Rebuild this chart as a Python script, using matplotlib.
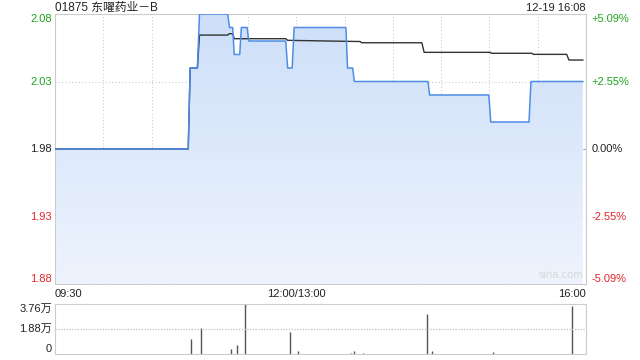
import numpy as np
import matplotlib
matplotlib.use("Agg")
import matplotlib.pyplot as plt
import matplotlib.transforms as mtransforms

plt.rcParams['font.family'] = ['Liberation Sans', 'Noto Sans CJK SC', 'DejaVu Sans']

# trading minutes since 09:30 (12:00/13:00 break folded out), 330 = 16:00
price_t = [0, 82.8, 84.0, 88.5, 89.8, 107.3, 108.5, 110.4, 111.4, 114.8, 115.8,
           116.6, 119.4, 120.4, 143.4, 144.6, 147.4, 148.6, 180.8, 181.8, 185.0,
           186.0, 231.8, 232.8, 269.6, 270.8, 294.6, 295.8, 328.0]
price_v = [1.98, 1.98, 2.04, 2.04, 2.08, 2.08, 2.07, 2.07, 2.05, 2.05, 2.07,
           2.07, 2.07, 2.06, 2.06, 2.04, 2.04, 2.07, 2.07, 2.04, 2.04,
           2.03, 2.03, 2.02, 2.02, 2.00, 2.00, 2.03, 2.03]

avg_t = [0, 82.8, 84.0, 88.5, 89.8, 107.3, 108.2, 110.4, 111.4, 143.4, 144.6, 189.6,
         190.6, 228.0, 229.4, 270.4, 271.4, 296.3, 297.3, 318.0, 319.4, 328.0]
avg_v = [1.98, 1.98, 2.04, 2.04, 2.0644, 2.0644, 2.0654, 2.0654, 2.0617, 2.0617, 2.0605, 2.0596,
         2.0587, 2.0587, 2.0516, 2.0516, 2.0509, 2.0509, 2.0501, 2.0501, 2.0459, 2.0459]

vol_t = [84.6, 90.7, 109.6, 112.9, 118.1, 146.1, 150.9, 184.0, 185.8, 191.7,
         231.0, 234.5, 272.5, 321.0]
vol_v = [1.13, 1.93, 0.38, 0.68, 3.76, 1.68, 0.23, 0.08, 0.2, 0.08,
         3.0, 0.2, 0.15, 3.6]  # 万股

price_ticks = [2.08, 2.03, 1.98, 1.93, 1.88]
price_labels = ['2.08', '2.03', '1.98', '1.93', '1.88']
pct_labels = ['+5.09%', '+2.55%', '0.00%', '-2.55%', '-5.09%']
tick_colors = ['#1da11d', '#1da11d', '#222222', '#e3262b', '#e3262b']
vol_ticks = [3.76, 1.88, 0]
vol_labels = ['3.76万', '1.88万', '0']

grid_c = '#cccccc'
fig = plt.figure(figsize=(6.4, 3.6), dpi=100)
ax = fig.add_axes([55 / 640, 1 - 284 / 360, 531 / 640, 270 / 360])
axv = fig.add_axes([55 / 640, 1 - 354 / 360, 531 / 640, 50 / 360])

ax.set_xlim(0, 330)
ax.set_ylim(1.88, 2.08)

# gradient fill under the price line
poly = ax.fill_between(price_t, price_v, 1.88, color='none', lw=0)
grad = np.linspace(0, 1, 256).reshape(-1, 1)
img = ax.imshow(grad, cmap=matplotlib.colors.LinearSegmentedColormap.from_list(
    'g', ['#cddff9', '#eef4fd']), aspect='auto', extent=[0, 330, 1.88, 2.08],
    origin='upper', zorder=1)
img.set_clip_path(poly.get_paths()[0], transform=ax.transData)
ax.set_ylim(1.88, 2.08)

# grid
for x in range(30, 330, 30):
    ax.axvline(x, color=grid_c, lw=0.8, ls=(0, (1, 2)), zorder=0.5)
for y in [2.03, 1.93]:
    ax.axhline(y, color=grid_c, lw=0.8, ls=(0, (1, 2)), zorder=0.5)
ax.axhline(1.98, color='#aaaaaa', lw=0.8, ls=(0, (3, 2)), zorder=0.5)

ax.plot(avg_t, avg_v, color='#333333', lw=1.0, zorder=3)
ax.plot(price_t, price_v, color='#4d8de6', lw=1.1, zorder=4)

for s in ax.spines.values():
    s.set_color(grid_c)
ax.set_xticks([])
ax.set_yticks([])

tl = mtransforms.blended_transform_factory(ax.transAxes, ax.transData)
for i, (yv, lab, pl, c) in enumerate(zip(price_ticks, price_labels, pct_labels, tick_colors)):
    va = 'top' if i == 0 else ('bottom' if i == len(price_ticks) - 1 else 'center')
    ax.text(-0.006, yv, lab, transform=tl, ha='right', va=va, color=c, fontsize=8)
    ax.text(1.01, yv, pl, transform=tl, ha='left', va=va, color=c, fontsize=8)

ax.text(0, 1.024, '01875 东曜药业－B', transform=ax.transAxes, ha='left',
        va='center', fontsize=8.5, color='#222222')
ax.text(1, 1.024, '12-19 16:08', transform=ax.transAxes, ha='right',
        va='center', fontsize=8, color='#222222')
ax.text(0.995, 0.015, 'sina.com', transform=ax.transAxes, ha='right',
        va='bottom', fontsize=8, color='#d8d8d8')

for xv, lab, ha in [(0, '09:30', 'left'), (150, '12:00/13:00', 'center'), (330, '16:00', 'right')]:
    ax.text(xv, -0.018, lab, transform=mtransforms.blended_transform_factory(ax.transData, ax.transAxes),
            ha=ha, va='top', fontsize=8, color='#222222')

# volume panel
axv.set_xlim(0, 330)
axv.set_ylim(0, 3.76)
axv.vlines(vol_t, 0, vol_v, color='#555555', lw=1.0)
axv.axhline(1.88, color=grid_c, lw=1.0, ls=(0, (1, 1)))
axv.spines['top'].set_linestyle((0, (1, 1)))
axv.spines['bottom'].set_linestyle((0, (1, 1)))
for s in axv.spines.values():
    s.set_color(grid_c)
axv.set_xticks([])
axv.set_yticks([])
tv = mtransforms.blended_transform_factory(axv.transAxes, axv.transData)
for i, (yv, lab) in enumerate(zip(vol_ticks, vol_labels)):
    va = 'top' if i == 0 else ('bottom' if i == len(vol_ticks) - 1 else 'center')
    axv.text(-0.006, yv, lab, transform=tv, ha='right', va=va, fontsize=8, color='#222222')

fig.savefig('out.png', dpi=100)
